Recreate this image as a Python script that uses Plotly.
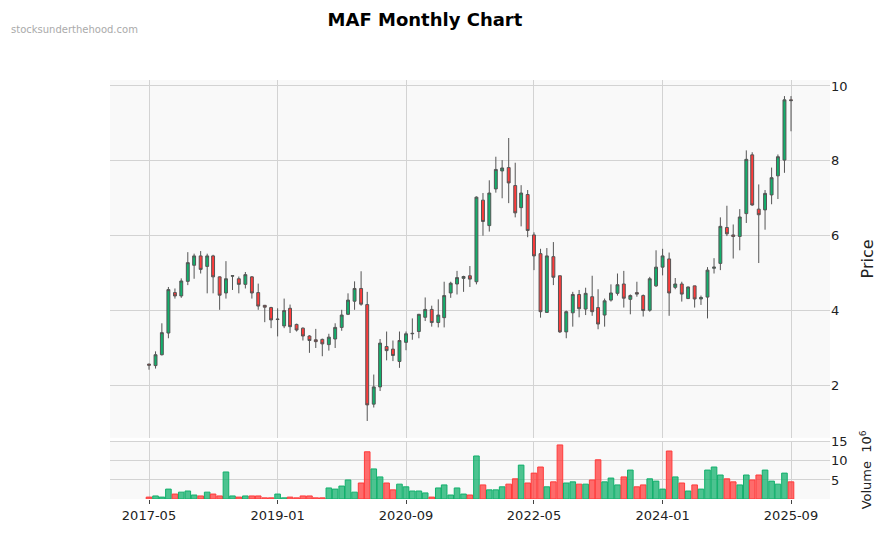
import pandas as pd
import plotly.graph_objects as go
from plotly.subplots import make_subplots

dates = pd.date_range("2017-05-01", "2025-09-01", freq="MS")

opens = [2.57, 2.53, 2.82, 3.40, 4.48, 4.39, 4.78, 5.21, 5.46, 5.18, 5.46, 4.90, 4.47, 4.92, 4.85, 4.70, 4.90,
         4.48, 4.14, 4.08, 3.76, 3.59, 4.06, 3.63, 3.53, 3.32, 3.22, 3.23, 3.09, 3.24, 3.55, 3.90, 4.25, 4.59,
         4.16, 1.50, 1.96, 3.04, 2.97, 2.64, 3.15, 3.38, 3.44, 3.82, 4.03, 3.68, 3.81, 4.47, 4.71, 4.86, 4.93,
         4.77, 6.95, 6.27, 7.25, 7.73, 7.82, 7.34, 6.75, 7.10, 6.02, 5.52, 3.95, 5.44, 4.93, 3.43, 3.94, 4.43,
         4.04, 4.37, 4.08, 3.88, 4.28, 4.46, 4.71, 4.30, 4.48, 4.40, 4.01, 4.66, 5.16, 5.38, 4.62, 4.71, 4.32,
         4.66, 4.31, 4.36, 5.13, 5.26, 6.22, 6.02, 5.98, 6.59, 8.16, 6.71, 6.69, 7.09, 7.60, 8.02, 9.63]
closes = [2.54, 2.82, 3.41, 4.56, 4.39, 4.79, 5.28, 5.46, 5.10, 5.46, 4.90, 4.41, 4.85, 4.93, 4.70, 4.96, 4.47,
          4.12, 4.09, 3.75, 3.77, 4.00, 3.57, 3.48, 3.32, 3.20, 3.17, 3.11, 3.29, 3.55, 3.88, 4.28, 4.59, 4.17,
          1.48, 1.96, 3.13, 2.93, 2.80, 3.20, 3.38, 3.39, 3.90, 4.03, 3.68, 3.88, 4.40, 4.73, 4.88, 4.91, 4.84,
          7.03, 6.38, 7.14, 7.77, 7.81, 7.41, 6.61, 7.14, 6.14, 5.46, 3.97, 5.46, 4.89, 3.43, 3.97, 4.43, 4.05,
          4.46, 3.97, 3.64, 4.26, 4.47, 4.69, 4.33, 4.40, 4.44, 4.00, 4.85, 5.16, 5.46, 4.47, 4.71, 4.44, 4.63,
          4.31, 4.35, 5.08, 5.16, 6.25, 6.05, 5.98, 6.50, 8.04, 6.82, 6.56, 7.13, 7.55, 8.11, 9.63, 9.61]
highs = [2.58, 2.91, 3.66, 4.63, 4.59, 4.86, 5.56, 5.52, 5.59, 5.52, 5.49, 4.91, 5.32, 4.93, 4.91, 5.03, 4.92,
         4.72, 4.15, 4.10, 4.06, 4.32, 4.16, 3.65, 3.55, 3.34, 3.51, 3.25, 3.38, 3.66, 4.02, 4.46, 4.78, 5.05,
         4.50, 2.29, 3.24, 3.44, 3.20, 3.44, 3.44, 3.79, 3.91, 4.35, 4.13, 4.30, 4.77, 4.77, 5.06, 4.93, 5.19,
         7.05, 7.14, 7.48, 8.11, 8.02, 8.61, 7.95, 7.35, 7.22, 6.09, 5.65, 5.67, 5.83, 4.93, 4.00, 4.50, 4.55,
         4.61, 4.93, 4.57, 4.32, 4.70, 4.99, 5.06, 4.43, 4.77, 4.43, 4.90, 5.61, 5.65, 5.55, 4.87, 4.77, 4.64,
         4.66, 4.40, 5.16, 5.40, 6.49, 6.80, 6.30, 6.71, 8.28, 8.23, 7.37, 7.22, 7.82, 8.17, 9.73, 9.73]
lows = [2.42, 2.45, 2.80, 3.26, 4.32, 4.34, 4.68, 4.85, 4.99, 4.46, 4.46, 4.02, 4.32, 4.55, 4.46, 4.59, 4.32,
        4.02, 3.69, 3.53, 3.31, 3.53, 3.40, 3.44, 3.20, 2.87, 3.00, 2.78, 2.93, 3.00, 3.46, 3.88, 4.02, 4.13,
        1.05, 1.41, 1.85, 2.67, 2.65, 2.47, 2.94, 3.22, 3.26, 3.72, 3.57, 3.55, 3.55, 4.34, 4.43, 4.50, 4.63,
        4.70, 6.00, 6.11, 7.15, 7.00, 6.87, 6.49, 6.25, 5.96, 5.08, 3.81, 3.94, 4.68, 3.40, 3.26, 3.57, 3.82,
        3.88, 3.86, 3.50, 3.57, 4.24, 4.40, 4.08, 3.90, 4.37, 3.84, 3.97, 4.63, 4.94, 3.86, 4.57, 4.24, 4.31,
        4.08, 4.15, 3.79, 4.99, 5.08, 5.99, 5.39, 5.61, 6.34, 6.80, 5.27, 6.16, 6.84, 6.98, 7.68, 8.79]
volume = [0.5, 0.8, 0.5, 2.6, 1.3, 1.8, 2.1, 1.05, 0.8, 1.8, 1.3, 0.8, 7.1, 0.8, 0.5, 0.8, 0.8, 0.8, 0.3, 0.3,
          1.3, 0.3, 0.5, 0.3, 0.8, 0.8, 0.3, 0.3, 2.9, 2.6, 3.4, 5.0, 1.8, 4.2, 12.4, 7.9, 5.8, 4.2, 2.4, 3.9,
          3.2, 2.1, 2.1, 1.6, 0.5, 2.9, 3.7, 1.05, 2.9, 1.3, 1.05, 11.3, 3.7, 2.4, 2.4, 3.2, 3.9, 5.3, 8.9, 4.2,
          6.8, 8.4, 3.2, 4.5, 14.2, 4.2, 4.5, 3.9, 3.9, 5.0, 10.3, 4.5, 5.5, 3.7, 5.8, 7.6, 3.2, 3.7, 5.3, 4.7,
          2.6, 12.6, 5.8, 4.2, 2.1, 3.7, 2.6, 7.6, 8.4, 6.3, 5.3, 4.5, 3.7, 6.3, 5.0, 6.3, 7.6, 4.7, 3.9, 6.8, 4.5]

up_col = "#12b06c"
down_col = "#ff3b3b"
vol_colors = ["rgba(18,176,108,0.75)" if c >= o else "rgba(255,59,59,0.75)" for o, c in zip(opens, closes)]
vol_lines = [up_col if c >= o else down_col for o, c in zip(opens, closes)]

fig = make_subplots(rows=2, cols=1, shared_xaxes=True, row_heights=[0.86, 0.14], vertical_spacing=0.007)

fig.add_trace(go.Candlestick(
    x=dates, open=opens, high=highs, low=lows, close=closes,
    increasing=dict(fillcolor=up_col, line=dict(color="#555555", width=1)),
    decreasing=dict(fillcolor=down_col, line=dict(color="#555555", width=1)),
    whiskerwidth=0, showlegend=False,
), row=1, col=1)

fig.add_trace(go.Bar(
    x=dates, y=volume, marker=dict(color=vol_colors, line=dict(color=vol_lines, width=1)),
    showlegend=False,
), row=2, col=1)

tick_dates = ["2017-05-01", "2019-01-01", "2020-09-01", "2022-05-01", "2024-01-01", "2025-09-01"]
grid = "#d3d3d3"
fig.update_xaxes(range=["2016-10-28", "2026-03-05"], showgrid=True, gridcolor=grid,
                 tickvals=tick_dates, tickformat="%Y-%m", ticks="outside", ticklen=4,
                 rangeslider_visible=False, zeroline=False, automargin=False)
fig.update_xaxes(showticklabels=False, ticks="", row=1, col=1)
fig.update_yaxes(side="right", showgrid=True, gridcolor=grid, zeroline=False, automargin=False)
fig.update_yaxes(range=[0.6, 10.16], tickvals=[2, 4, 6, 8, 10], title_text="Price", row=1, col=1)
fig.update_yaxes(range=[0, 15.3], tickvals=[5, 10, 15], title_text="Volume  10<sup>6</sup>",
                 title_font_size=13, row=2, col=1)

fig.update_layout(
    width=891, height=533,
    margin=dict(l=102, r=69, t=72, b=42, autoexpand=False),
    paper_bgcolor="white", plot_bgcolor="#f9f9f9",
    font=dict(family="DejaVu Sans", size=13, color="#222222"),
    title=dict(text="<b>MAF Monthly Chart</b>", x=0.468, xanchor="center", y=0.99, font=dict(size=18, color="black")),
    bargap=0.05,
)
fig.add_annotation(text="stocksunderthehood.com", xref="paper", yref="paper", x=-0.14, y=1.138,
                   xanchor="left", showarrow=False, font=dict(size=10, color="#aaaaaa"))

fig.write_html("out.html")
